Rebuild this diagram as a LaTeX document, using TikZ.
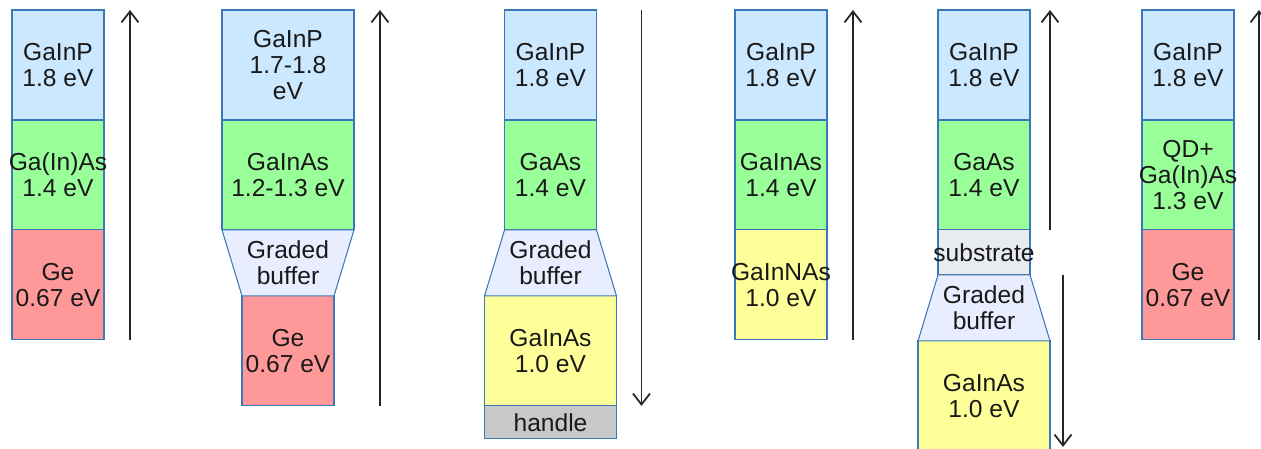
\documentclass[tikz,border=0pt]{standalone}
\usepackage{fontspec}
\setmainfont{Liberation Sans}
\usetikzlibrary{positioning,calc,arrows.meta}

\definecolor{edgeblue}{RGB}{59,120,184}
\definecolor{topblue}{RGB}{204,232,255}
\definecolor{midgreen}{RGB}{153,255,153}
\definecolor{gered}{RGB}{255,153,153}
\definecolor{lowyellow}{RGB}{255,255,153}
\definecolor{buflilac}{RGB}{232,238,255}
\definecolor{subgray}{RGB}{232,236,240}
\definecolor{handlegray}{RGB}{200,200,200}

\tikzset{
	captxt/.style={align=center, inner sep=0pt, text=black!90,
		font=\fontsize{14}{14.8}\selectfont},
	layer/.style={captxt, draw=edgeblue, line width=0.6pt, outer sep=0pt},
	narrow/.style={layer, minimum width=1.84cm, minimum height=2.2cm},
	wide/.style={layer, minimum width=2.64cm, minimum height=2.2cm},
	buffer/.style={draw=edgeblue, line width=0.6pt, fill=buflilac},
	flow/.style={draw=black!85, line width=1pt,
		-{Straight Barb[length=2.2mm,width=3.4mm]}}
}

\begin{document}
\begin{tikzpicture}[x=0.02cm,y=0.02cm]
	\useasboundingbox (0,0) rectangle (1261,-449);
	\clip (0,0) rectangle (1261,-449);

	% lattice matched on Ge
	\node[narrow, fill=topblue] (c1p) at (58,-65) {GaInP\\1.8 eV};
	\node[narrow, fill=midgreen, below=0pt of c1p] (c1a) {\makebox[0pt]{Ga(In)As}\\1.4 eV};
	\node[narrow, fill=gered, below=0pt of c1a] (c1g) {Ge\\0.67 eV};
	\draw[flow] ($(c1g.south east)+(26,0)$) -- ($(c1p.north east)+(26,0)$);

	% metamorphic upright
	\node[wide, fill=topblue] (c2p) at (288,-65) {GaInP\\1.7-1.8\\eV};
	\node[wide, fill=midgreen, below=0pt of c2p] (c2a) {GaInAs\\1.2-1.3 eV};
	\node[narrow, fill=gered, below=1.32cm of c2a] (c2g) {Ge\\0.67 eV};
	\filldraw[buffer] (c2a.south west) -- (c2a.south east) -- (c2g.north east) -- (c2g.north west) -- cycle;
	\node[captxt] (c2b) at ($(c2a.south)!0.5!(c2g.north)$) {Graded\\buffer};
	\draw[flow] ($(c2p.east |- c2g.south)+(26,0)$) -- ($(c2p.north east)+(26,0)$);

	% inverted metamorphic
	\node[narrow, fill=topblue] (c3p) at (550.5,-65) {GaInP\\1.8 eV};
	\node[narrow, fill=midgreen, below=0pt of c3p] (c3a) {GaAs\\1.4 eV};
	\node[wide, fill=lowyellow, below=1.32cm of c3a] (c3i) {GaInAs\\1.0 eV};
	\node[wide, fill=handlegray, minimum height=0.66cm, below=0pt of c3i] (c3h) {handle};
	\filldraw[buffer] (c3a.south west) -- (c3a.south east) -- (c3i.north east) -- (c3i.north west) -- cycle;
	\node[captxt] (c3b) at ($(c3a.south)!0.5!(c3i.north)$) {Graded\\buffer};
	\draw[flow] ($(c3p.north east)+(45,0)$) -- ($(c3p.east |- c3i.south)+(45,0)$);

	% dilute nitride
	\node[narrow, fill=topblue] (c4p) at (781,-65) {GaInP\\1.8 eV};
	\node[narrow, fill=midgreen, below=0pt of c4p] (c4a) {GaInAs\\1.4 eV};
	\node[narrow, fill=lowyellow, below=0pt of c4a] (c4n) {\makebox[0pt]{GaInNAs}\\1.0 eV};
	\draw[flow] ($(c4n.south east)+(26,0)$) -- ($(c4p.north east)+(26,0)$);

	% both sides of the substrate
	\node[narrow, fill=topblue] (c5p) at (984,-65) {GaInP\\1.8 eV};
	\node[narrow, fill=midgreen, below=0pt of c5p] (c5a) {GaAs\\1.4 eV};
	\node[narrow, fill=subgray, minimum height=0.9cm, below=0pt of c5a] (c5s) {\makebox[0pt]{substrate}};
	\node[wide, fill=lowyellow, below=1.32cm of c5s] (c5i) {GaInAs\\1.0 eV};
	\filldraw[buffer] (c5s.south west) -- (c5s.south east) -- (c5i.north east) -- (c5i.north west) -- cycle;
	\node[captxt] (c5b) at ($(c5s.south)!0.5!(c5i.north)$) {Graded\\buffer};
	\draw[flow] ($(c5a.south east)+(20,0)$) -- ($(c5p.north east)+(20,0)$);
	\draw[flow] ($(c5s.south east)+(33,0)$) -- ($(c5s.east |- c5i.south)+(33,4)$);

	% quantum dots
	\node[narrow, fill=topblue] (c6p) at (1188,-65) {GaInP\\1.8 eV};
	\node[narrow, fill=midgreen, below=0pt of c6p] (c6a) {QD+\\\makebox[0pt]{Ga(In)As}\\1.3 eV};
	\node[narrow, fill=gered, below=0pt of c6a] (c6g) {Ge\\0.67 eV};
	\draw[flow] ($(c6g.south east)+(25,0)$) -- ($(c6p.north east)+(25,0)$);
\end{tikzpicture}
\end{document}
